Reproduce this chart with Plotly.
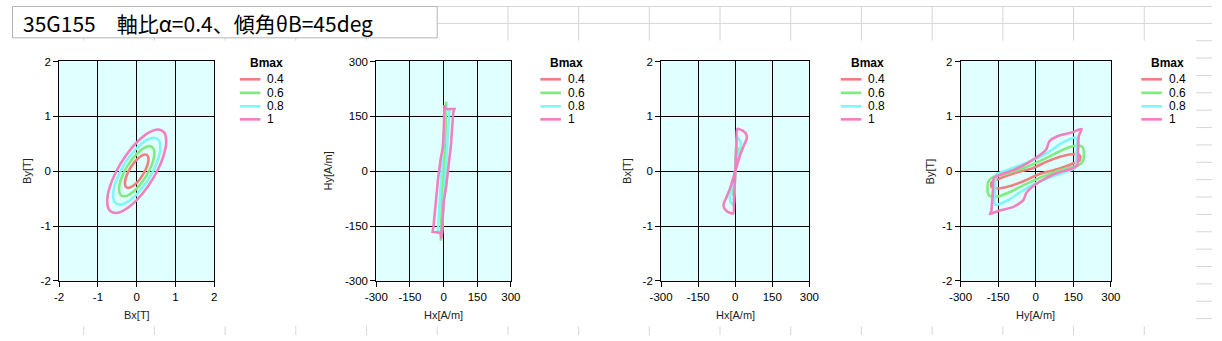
import plotly.graph_objects as go

W, H = 1222, 341

# ---------------- data ----------------
bmax_labels = ["0.4", "0.6", "0.8", "1"]
colors = ["#EE8080", "#80EC80", "#80F6F6", "#F080C0"]

# Plot 1 : Bx [T] vs By [T]
p1_bx_04 = [0.283, 0.218, 0.120, 0.004, -0.113, -0.213, -0.280, -0.304, -0.283, -0.218, -0.120, -0.004, 0.113, 0.213, 0.280, 0.304, 0.283]
p1_by_04 = [0.283, 0.304, 0.280, 0.213, 0.113, -0.004, -0.120, -0.218, -0.283, -0.304, -0.280, -0.213, -0.113, 0.004, 0.120, 0.218, 0.283]
p1_bx_06 = [0.424, 0.327, 0.180, 0.005, -0.170, -0.319, -0.420, -0.457, -0.424, -0.327, -0.180, -0.005, 0.170, 0.319, 0.420, 0.457, 0.424]
p1_by_06 = [0.424, 0.457, 0.420, 0.319, 0.170, -0.005, -0.180, -0.327, -0.424, -0.457, -0.420, -0.319, -0.170, 0.005, 0.180, 0.327, 0.424]
p1_bx_08 = [0.566, 0.436, 0.240, 0.007, -0.226, -0.426, -0.560, -0.609, -0.566, -0.436, -0.240, -0.007, 0.226, 0.426, 0.560, 0.609, 0.566]
p1_by_08 = [0.566, 0.609, 0.560, 0.426, 0.226, -0.007, -0.240, -0.436, -0.566, -0.609, -0.560, -0.426, -0.226, 0.007, 0.240, 0.436, 0.566]
p1_bx_10 = [0.707, 0.545, 0.300, 0.009, -0.283, -0.532, -0.700, -0.761, -0.707, -0.545, -0.300, -0.009, 0.283, 0.532, 0.700, 0.761, 0.707]
p1_by_10 = [0.707, 0.761, 0.700, 0.532, 0.283, -0.009, -0.300, -0.545, -0.707, -0.761, -0.700, -0.532, -0.283, 0.009, 0.300, 0.545, 0.707]

# Plot 2 : Hx [A/m] vs Hy [A/m]
p2_hx_04 = [6, 8, 5, 2, -2, -6, -8, -6, -5, -2, 2, 6]
p2_hy_04 = [176, 160, 80, 0, -80, -160, -176, -160, -80, 0, 80, 176]
p2_hx_06 = [12, 11, 7, 3, -2, -7, -12, -11, -7, -3, 2, 7, 12]
p2_hy_06 = [190, 150, 80, 10, -60, -130, -190, -150, -80, -10, 60, 130, 190]
p2_hx_08 = [8, 26, 24, 18, 10, 2, -4, -8, -26, -24, -18, -10, -2, 4, 8]
p2_hy_08 = [172, 168, 150, 80, 0, -60, -130, -172, -168, -150, -80, 0, 60, 130, 172]
p2_hx_10 = [4, 9, 48, 43, 33, 26, 12, 1, -4, -7, -10, -13, -49, -45, -36, -25, -13, -3, 1, 4]
p2_hy_10 = [181, 170, 170, 160, 73, 30, -39, -82, -134, -177, -184, -168, -166, -151, -82, -22, 34, 65, 116, 181]

# Plot 3 : Hx [A/m] vs Bx [T]
p3_hx_04 = [3, 6, 4, 0, -4, -6, -3, -1, 1, 3]
p3_bx_04 = [0.30, 0.26, 0.15, 0.0, -0.15, -0.26, -0.30, -0.12, 0.12, 0.30]
p3_hx_06 = [4, 10, 8, 0, -8, -10, -4, -2, 2, 4]
p3_bx_06 = [0.46, 0.40, 0.25, 0.0, -0.25, -0.40, -0.46, -0.20, 0.20, 0.46]
p3_hx_08 = [6, 20, 22, 12, 0, -12, -22, -20, -6, -4, 4, 6]
p3_bx_08 = [0.62, 0.55, 0.45, 0.25, 0.0, -0.25, -0.45, -0.55, -0.62, -0.30, 0.30, 0.62]
p3_hx_10 = [8, 30, 45, 47, 35, 20, 8, 0, -8, -20, -35, -47, -45, -30, -8, -5, -2, 2, 5, 8]
p3_bx_10 = [0.77, 0.74, 0.67, 0.60, 0.47, 0.30, 0.12, 0.0, -0.12, -0.30, -0.47, -0.60, -0.67, -0.74, -0.77, -0.50, -0.20, 0.20, 0.50, 0.77]

# Plot 4 : Hy [A/m] vs By [T]
p4_hy_04 = [172, 146, 94, 42, -10, -89, -154, -176, -178, -172, -146, -94, -42, 10, 89, 154, 176, 178, 172]
p4_by_04 = [0.30, 0.31, 0.26, 0.17, 0.06, -0.04, -0.15, -0.20, -0.27, -0.30, -0.31, -0.26, -0.17, -0.06, 0.04, 0.15, 0.20, 0.27, 0.30]
p4_hy_06 = [185, 150, 94, 42, -37, -115, -172, -190, -192, -185, -150, -94, -42, 37, 115, 172, 190, 192, 185]
p4_by_06 = [0.45, 0.46, 0.36, 0.24, 0.08, -0.04, -0.11, -0.20, -0.38, -0.45, -0.46, -0.36, -0.24, -0.08, 0.04, 0.11, 0.20, 0.38, 0.45]
p4_hy_08 = [162, 107, 68, 29, -37, -102, -158, -162, -162, -107, -68, -29, 37, 102, 158, 162, 162]
p4_by_08 = [0.61, 0.52, 0.40, 0.29, 0.15, 0.04, -0.06, -0.30, -0.61, -0.52, -0.40, -0.29, -0.15, -0.04, 0.06, 0.30, 0.61]
p4_hy_10 = [183, 146, 94, 55, 42, 16, -37, -89, -141, -167, -171, -178, -183, -148, -89, -50, -37, -10, 42, 94, 146, 166, 169, 172, 183]
p4_by_10 = [0.77, 0.71, 0.65, 0.55, 0.40, 0.29, 0.14, 0.02, -0.06, -0.12, -0.36, -0.74, -0.78, -0.72, -0.65, -0.53, -0.39, -0.27, -0.12, -0.02, 0.05, 0.11, 0.35, 0.64, 0.77]

# tick values / labels
b_ticks = [-2, -1, 0, 1, 2]
b_ticktext = ["-2", "-1", "0", "1", "2"]
h_ticks = [-300, -150, 0, 150, 300]
h_ticktext = ["-300", "-150", "0", "150", "300"]

title_text = "35G155　軸比α=0.4、傾角θB=45deg"
x_titles = ["Bx[T]", "Hx[A/m]", "Hx[A/m]", "Hy[A/m]"]
y_titles = ["By[T]", "Hy[A/m]", "Bx[T]", "By[T]"]
legend_title = "Bmax"

# ---------------- figure ----------------
plots = [
    [(p1_bx_04, p1_by_04), (p1_bx_06, p1_by_06), (p1_bx_08, p1_by_08), (p1_bx_10, p1_by_10)],
    [(p2_hx_04, p2_hy_04), (p2_hx_06, p2_hy_06), (p2_hx_08, p2_hy_08), (p2_hx_10, p2_hy_10)],
    [(p3_hx_04, p3_bx_04), (p3_hx_06, p3_bx_06), (p3_hx_08, p3_bx_08), (p3_hx_10, p3_bx_10)],
    [(p4_hy_04, p4_by_04), (p4_hy_06, p4_by_06), (p4_hy_08, p4_by_08), (p4_hy_10, p4_by_10)],
]
line_shapes = ["spline", "linear", "spline", "spline"]
smooth = [1.0, 0, 0.6, 0.6]
axis_ticks = [((b_ticks, b_ticktext), (b_ticks, b_ticktext)),
              ((h_ticks, h_ticktext), (h_ticks, h_ticktext)),
              ((h_ticks, h_ticktext), (b_ticks, b_ticktext)),
              ((h_ticks, h_ticktext), (b_ticks, b_ticktext))]

# pixel layout of plot areas
plot_px = [(48, 206), (371, 508), (661, 812), (966, 1119)]
top_px, bot_px = 57.5, 285
ytitle_x = [16, 322, 627, 935]
xtitle_y = 320

FONT = "Liberation Sans, Arial, sans-serif"


def px(x):
    return x / W


def py(y):
    return 1 - y / H


fig = go.Figure()
for i, series in enumerate(plots):
    xa = "x" if i == 0 else f"x{i+1}"
    ya = "y" if i == 0 else f"y{i+1}"
    for k, (xs, ys) in enumerate(series):
        line = dict(color=colors[k], width=2.6, shape=line_shapes[i])
        if line_shapes[i] == "spline":
            line["smoothing"] = smooth[i]
        fig.add_trace(go.Scatter(x=xs, y=ys, mode="lines", line=line, name=bmax_labels[k],
                                 xaxis=xa, yaxis=ya, showlegend=False, hoverinfo="skip"))

layout = dict(
    width=W, height=H, margin=dict(l=0, r=0, t=0, b=0),
    paper_bgcolor="white", plot_bgcolor="#E0FFFF",
    font=dict(family=FONT, size=12, color="#000000"),
    showlegend=False,
)
axis_common = dict(showline=True, linecolor="black", linewidth=1, mirror=True,
                   showgrid=True, gridcolor="black", gridwidth=1,
                   zeroline=False, ticks="outside", ticklen=5, tickcolor="black", tickwidth=1,
                   tickfont=dict(family=FONT, size=11.5, color="#000000"),
                   tickmode="array", fixedrange=True)
for i in range(4):
    L, R = plot_px[i]
    xk = "xaxis" if i == 0 else f"xaxis{i+1}"
    yk = "yaxis" if i == 0 else f"yaxis{i+1}"
    ya = "y" if i == 0 else f"y{i+1}"
    xa = "x" if i == 0 else f"x{i+1}"
    (xtv, xtt), (ytv, ytt) = axis_ticks[i]
    layout[xk] = dict(axis_common, domain=[px(L), px(R)], range=[xtv[0], xtv[-1]],
                      tickvals=xtv, ticktext=xtt, anchor=ya)
    layout[yk] = dict(axis_common, domain=[py(bot_px), py(top_px)], range=[ytv[0], ytv[-1]],
                      tickvals=ytv, ticktext=ytt, anchor=xa)
fig.update_layout(**layout)

shapes = []
annotations = []
GRID = "#D6D6D6"
# excel sheet gridlines visible around the chart
shapes.append(dict(type="line", xref="paper", yref="paper", x0=px(433), x1=1, y0=py(0.5), y1=py(0.5),
                   line=dict(color=GRID, width=1), layer="below"))
shapes.append(dict(type="line", xref="paper", yref="paper", x0=px(433), x1=1, y0=py(18), y1=py(18),
                   line=dict(color=GRID, width=1), layer="below"))
for c in range(1, 17):
    xc = 1 + 72 * c
    if xc > 433:
        shapes.append(dict(type="line", xref="paper", yref="paper", x0=px(xc), x1=px(xc), y0=py(0), y1=py(36),
                           line=dict(color=GRID, width=1), layer="below"))
    elif xc < 433:
        shapes.append(dict(type="line", xref="paper", yref="paper", x0=px(xc), x1=px(xc), y0=py(33), y1=py(36),
                           line=dict(color=GRID, width=1), layer="below"))
    shapes.append(dict(type="line", xref="paper", yref="paper", x0=px(xc), x1=px(xc), y0=py(332), y1=py(341),
                       line=dict(color=GRID, width=1), layer="below"))
for r in range(2, 19):
    yr = 18 * r
    shapes.append(dict(type="line", xref="paper", yref="paper", x0=px(1206), x1=1, y0=py(yr), y1=py(yr),
                       line=dict(color=GRID, width=1), layer="below"))
# title box
shapes.append(dict(type="rect", xref="paper", yref="paper", x0=px(0.5), x1=px(433), y0=py(33), y1=py(0.5),
                   line=dict(color="#B4B4B4", width=1), fillcolor="white", layer="below"))
annotations.append(dict(text=title_text, xref="paper", yref="paper", x=px(9), y=py(17.5),
                        xanchor="left", yanchor="middle", showarrow=False,
                        font=dict(family="Noto Sans CJK JP", size=21, color="#000000")))

# axis titles
for i in range(4):
    L, R = plot_px[i]
    annotations.append(dict(text=x_titles[i], xref="paper", yref="paper", x=px((L + R) / 2), y=py(xtitle_y),
                            xanchor="center", yanchor="middle", showarrow=False,
                            font=dict(family=FONT, size=11, color="#222222")))
    annotations.append(dict(text=y_titles[i], xref="paper", yref="paper", x=px(ytitle_x[i]),
                            y=py((top_px + bot_px) / 2), xanchor="center", yanchor="middle",
                            textangle=-90, showarrow=False,
                            font=dict(family=FONT, size=11, color="#222222")))

# legends (one per chart)
legend_line_x = [232, 538, 844, 1150]
row_y = [76, 90, 104, 117.5]
for i in range(4):
    x0 = legend_line_x[i]
    annotations.append(dict(text="<b>" + legend_title + "</b>", xref="paper", yref="paper",
                            x=px(x0 + 27), y=py(59), xanchor="center", yanchor="middle", showarrow=False,
                            font=dict(family=FONT, size=12, color="#000000")))
    for k in range(4):
        shapes.append(dict(type="line", xref="paper", yref="paper", x0=px(x0), x1=px(x0 + 21),
                           y0=py(row_y[k]), y1=py(row_y[k]), line=dict(color=colors[k], width=2.6)))
        annotations.append(dict(text=bmax_labels[k], xref="paper", yref="paper",
                                x=px(x0 + 26), y=py(row_y[k]), xanchor="left", yanchor="middle",
                                showarrow=False, font=dict(family=FONT, size=12, color="#000000")))

fig.update_layout(shapes=shapes, annotations=annotations)
fig.write_html("out.html")
